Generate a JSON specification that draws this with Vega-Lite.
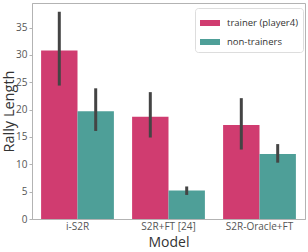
{
  "$schema": "https://vega.github.io/schema/vega-lite/v6.json",
  "autosize": "none",
  "width": 273,
  "height": 216,
  "padding": {"left": 32, "top": 3, "right": 3, "bottom": 33},
  "background": "white",
  "config": {
    "font": "Open Sans",
    "view": {"stroke": "#b3b3b3", "strokeWidth": 1},
    "axis": {"domainColor": "#b3b3b3", "tickColor": "#b3b3b3", "labelColor": "#555555", "titleColor": "#333333", "titleFontWeight": "normal", "grid": false, "labelFont": "Open Sans", "titleFont": "Open Sans"}
  },
  "data": {
    "values": [
      {"Model": "i-S2R", "group": "trainer (player4)", "value": 30.8, "lo": 24.4, "hi": 37.9},
      {"Model": "i-S2R", "group": "non-trainers", "value": 19.7, "lo": 16.1, "hi": 23.9},
      {"Model": "S2R+FT [24]", "group": "trainer (player4)", "value": 18.7, "lo": 14.9, "hi": 23.2},
      {"Model": "S2R+FT [24]", "group": "non-trainers", "value": 5.2, "lo": 4.4, "hi": 5.95},
      {"Model": "S2R-Oracle+FT", "group": "trainer (player4)", "value": 17.2, "lo": 12.7, "hi": 22.1},
      {"Model": "S2R-Oracle+FT", "group": "non-trainers", "value": 11.9, "lo": 10.3, "hi": 13.7}
    ]
  },
  "encoding": {
    "x": {
      "field": "Model", "type": "nominal",
      "sort": ["i-S2R", "S2R+FT [24]", "S2R-Oracle+FT"],
      "scale": {"paddingInner": 0.2, "paddingOuter": 0.1},
      "axis": {"title": "Model", "labelAngle": 0, "ticks": false, "labelPadding": 2, "labelFontSize": 10, "titleFontSize": 14, "titleBaseline": "alphabetic", "titleY": 27}
    },
    "xOffset": {
      "field": "group", "type": "nominal",
      "sort": ["trainer (player4)", "non-trainers"],
      "scale": {"paddingInner": 0, "paddingOuter": 0}
    }
  },
  "layer": [
    {
      "mark": {"type": "bar"},
      "encoding": {
        "y": {
          "field": "value", "type": "quantitative",
          "scale": {"domain": [0, 39.5], "nice": false},
          "axis": {"title": "Rally Length", "values": [0, 5, 10, 15, 20, 25, 30, 35], "tickSize": 3, "labelPadding": 2, "labelFontSize": 10, "titleFontSize": 14.5, "titleBaseline": "alphabetic", "titleX": -18.7}
        },
        "color": {
          "field": "group", "type": "nominal",
          "scale": {"domain": ["trainer (player4)", "non-trainers"], "range": ["#d03c70", "#4e9f98"]},
          "legend": {
            "title": null, "orient": "none", "legendX": 163, "legendY": 5,
            "fillColor": "white", "strokeColor": "#dddddd", "cornerRadius": 3, "padding": 5,
            "symbolType": "M-1,-0.3L1,-0.3L1,0.3L-1,0.3Z", "symbolSize": 400, "symbolStrokeWidth": 0,
            "labelFontSize": 9.5, "labelColor": "#333333", "labelOffset": 7, "rowPadding": 4
          }
        }
      }
    },
    {
      "mark": {"type": "rule", "color": "#444444", "strokeWidth": 3},
      "encoding": {
        "y": {
          "field": "lo", "type": "quantitative",
          "axis": {"title": "Rally Length", "values": [0, 5, 10, 15, 20, 25, 30, 35], "tickSize": 3, "labelPadding": 2, "labelFontSize": 10, "titleFontSize": 14.5, "titleBaseline": "alphabetic", "titleX": -18.7}
        },
        "y2": {"field": "hi"}
      }
    }
  ]
}
